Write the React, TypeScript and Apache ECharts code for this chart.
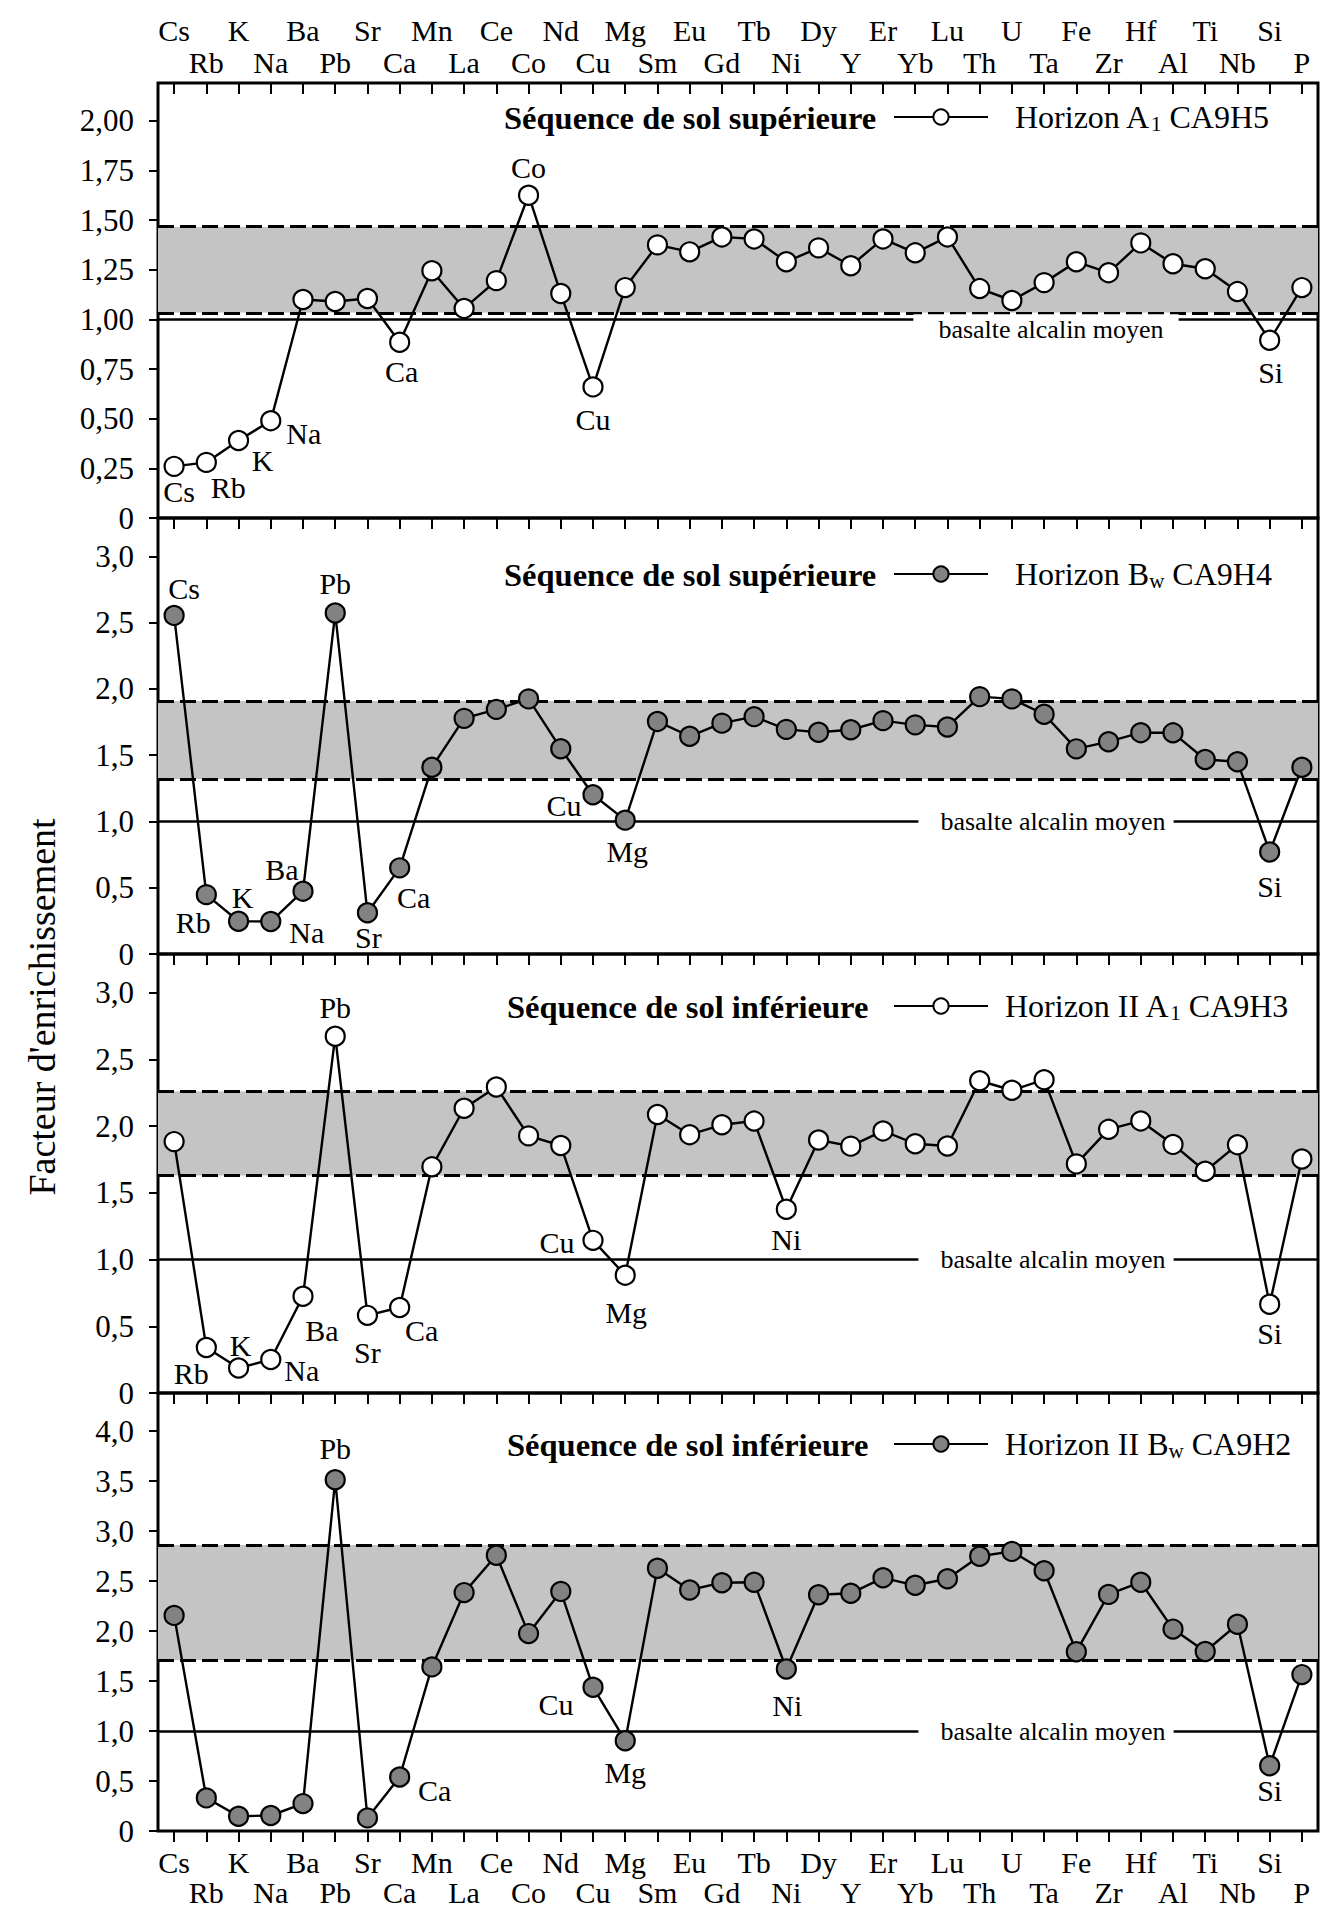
import React, { useEffect, useRef } from 'react';
import * as echarts from 'echarts';

const FONT = '"Liberation Serif", "Times New Roman", Times, serif';

// ---- Data ----
const elements = ['Cs', 'Rb', 'K', 'Na', 'Ba', 'Pb', 'Sr', 'Ca', 'Mn', 'La', 'Ce', 'Co', 'Nd', 'Cu', 'Mg', 'Sm', 'Eu', 'Gd', 'Tb', 'Ni', 'Dy', 'Y', 'Er', 'Yb', 'Lu', 'Th', 'U', 'Ta', 'Fe', 'Zr', 'Hf', 'Al', 'Ti', 'Nb', 'Si', 'P'];

const horizonA1CA9H5 = [0.26, 0.28, 0.39, 0.49, 1.10, 1.09, 1.105, 0.885, 1.245, 1.055, 1.195, 1.625, 1.13, 0.66, 1.16, 1.375, 1.34, 1.415, 1.405, 1.29, 1.36, 1.27, 1.405, 1.335, 1.415, 1.155, 1.095, 1.185, 1.29, 1.235, 1.385, 1.28, 1.255, 1.14, 0.895, 1.16];
const horizonBwCA9H4 = [2.555, 0.448, 0.247, 0.245, 0.474, 2.573, 0.311, 0.65, 1.409, 1.778, 1.846, 1.925, 1.549, 1.202, 1.01, 1.755, 1.643, 1.742, 1.791, 1.695, 1.673, 1.692, 1.761, 1.729, 1.713, 1.942, 1.925, 1.809, 1.548, 1.602, 1.67, 1.669, 1.468, 1.451, 0.77, 1.409];
const horizonIIA1CA9H3 = [1.884, 0.341, 0.187, 0.251, 0.725, 2.674, 0.582, 0.641, 1.695, 2.134, 2.293, 1.927, 1.855, 1.144, 0.883, 2.087, 1.936, 2.01, 2.038, 1.377, 1.896, 1.85, 1.964, 1.868, 1.851, 2.34, 2.269, 2.348, 1.717, 1.976, 2.039, 1.863, 1.662, 1.861, 0.665, 1.754];
const horizonIIBwCA9H2 = [2.156, 0.331, 0.147, 0.155, 0.274, 3.512, 0.131, 0.54, 1.641, 2.384, 2.758, 1.974, 2.396, 1.438, 0.903, 2.628, 2.41, 2.483, 2.487, 1.62, 2.362, 2.377, 2.532, 2.457, 2.523, 2.748, 2.796, 2.602, 1.793, 2.366, 2.488, 2.019, 1.795, 2.067, 0.652, 1.564];

const seriesNames = ['Horizon A1 CA9H5', 'Horizon Bw CA9H4', 'Horizon II A1 CA9H3', 'Horizon II Bw CA9H2'];
const sequenceTitles = ['Séquence de sol supérieure', 'Séquence de sol supérieure', 'Séquence de sol inférieure', 'Séquence de sol inférieure'];
const bandLow = [1.035, 1.32, 1.63, 1.71];
const bandHigh = [1.465, 1.91, 2.26, 2.86];
const meanLevel = 1.0;
const meanLabel = 'basalte alcalin moyen';
const yTitle = "Facteur d'enrichissement";

const yTicksA = [0, 0.25, 0.5, 0.75, 1, 1.25, 1.5, 1.75, 2];
const yTicksB = [0, 0.5, 1, 1.5, 2, 2.5, 3];
const yTicksC = [0, 0.5, 1, 1.5, 2, 2.5, 3, 3.5, 4];
const yMaxes = [2.19, 3.29, 3.29, 4.38];

// ---- Layout / style (not data) ----
const GRID_LEFT = 158;
const GRID_WIDTH = 1160;
const gridTops = [83, 518, 954, 1393];
const gridHeights = [435, 436, 439, 438];
const titleCenters = [118, 575, 1007, 1445];
const titleLefts = [504, 504, 507, 507];
const legendTextGaps = [22, 22, 12, 12];

const labelsA: Record<string, number[]> = { Cs: [5, 25], Rb: [22, 25], K: [24, 20], Na: [33, 13], Ca: [2, 29], Co: [0, -28], Cu: [0, 33], Si: [1, 32] };
const labelsB: Record<string, number[]> = { Cs: [10, -27], Rb: [-13, 28], K: [4, -24], Na: [36, 11], Ba: [-21, -22], Pb: [0, -30], Sr: [1, 25], Ca: [14, 30], Cu: [-29, 11], Mg: [2, 31], Si: [0, 35] };
const labelsC: Record<string, number[]> = { Rb: [-15, 26], K: [2, -23], Na: [31, 11], Ba: [19, 34], Pb: [0, -29], Sr: [0, 37], Ca: [22, 23], Cu: [-36, 2], Mg: [1, 37], Ni: [0, 30], Si: [0, 29] };
const labelsD: Record<string, number[]> = { Pb: [0, -31], Ca: [35, 13], Cu: [-37, 17], Mg: [0, 32], Ni: [1, 36], Si: [0, 25] };

export default function App() {
  const ref = useRef<HTMLDivElement>(null);

  useEffect(() => {
    const chart = echarts.init(ref.current!, null, { renderer: 'svg' });

    const panels = [
      { values: horizonA1CA9H5, ticks: yTicksA, step: 0.25, dec: 2, fill: '#ffffff', labels: labelsA, rich: '{h|Horizon A}{s|1}{t| CA9H5}' },
      { values: horizonBwCA9H4, ticks: yTicksB, step: 0.5, dec: 1, fill: '#828282', labels: labelsB, rich: '{h|Horizon B}{s|w}{t| CA9H4}' },
      { values: horizonIIA1CA9H3, ticks: yTicksB, step: 0.5, dec: 1, fill: '#ffffff', labels: labelsC, rich: '{h|Horizon II A}{s|1}{t| CA9H3}' },
      { values: horizonIIBwCA9H2, ticks: yTicksC, step: 0.5, dec: 1, fill: '#828282', labels: labelsD, rich: '{h|Horizon II B}{s|w}{t| CA9H2}' },
    ];

    const tickLine = { color: '#000', width: 2 };
    const labelText = { fontFamily: FONT, fontSize: 30, color: '#000' };

    const grid = panels.map((_, i) => ({
      left: GRID_LEFT, width: GRID_WIDTH, top: gridTops[i], height: gridHeights[i],
      show: true, borderColor: '#000', borderWidth: 3, backgroundColor: 'transparent',
    }));

    const xAxis: any[] = [];
    panels.forEach((_, i) => {
      xAxis.push({
        type: 'category', gridIndex: i, position: 'bottom', data: elements, boundaryGap: true,
        axisLine: { show: false }, splitLine: { show: false },
        axisTick: { show: i === 3, inside: false, length: 11, alignWithLabel: true, interval: 0, lineStyle: tickLine },
        axisLabel: i === 3 ? {
          show: true, interval: 0, margin: 16, ...labelText,
          formatter: (v: string, idx: number) => (idx % 2 === 0 ? `{e|${v}}` : `{o|${v}}`),
          rich: { e: { ...labelText }, o: { ...labelText, padding: [30, 0, 0, 0] } },
        } : { show: false },
      });
      xAxis.push({
        type: 'category', gridIndex: i, position: 'top', data: elements, boundaryGap: true,
        axisLine: { show: false }, splitLine: { show: false },
        axisTick: { show: true, inside: true, length: 11, alignWithLabel: true, interval: 0, lineStyle: tickLine },
        axisLabel: i === 0 ? {
          show: true, interval: 0, margin: 6, ...labelText,
          formatter: (v: string, idx: number) => (idx % 2 === 0 ? `{e|${v}}` : `{o|${v}}`),
          rich: { e: { ...labelText, padding: [0, 0, 32, 0] }, o: { ...labelText } },
        } : { show: false },
      });
    });

    const yAxis = panels.map((p, i) => ({
      type: 'value', gridIndex: i, min: 0, max: yMaxes[i], interval: p.step,
      axisLine: { show: false }, splitLine: { show: false },
      axisTick: { show: true, inside: false, length: 9, lineStyle: tickLine, customValues: p.ticks },
      axisLabel: {
        show: true, margin: 24, ...labelText, fontSize: 31, customValues: p.ticks,
        formatter: (v: number) => {
          const r = v / p.step;
          if (Math.abs(r - Math.round(r)) > 1e-6) return '';
          return v === 0 ? '0' : v.toFixed(p.dec).replace('.', ',');
        },
      },
    }));

    const series = panels.map((p, i) => ({
      type: 'line', name: seriesNames[i], xAxisIndex: 2 * i, yAxisIndex: i, z: 5,
      data: p.values.map((v, j) => {
        const off = p.labels[elements[j]];
        return off ? { value: v, label: { show: true, position: 'inside', offset: off } } : { value: v };
      }),
      symbol: 'circle', symbolSize: 19, showAllSymbol: true,
      lineStyle: { color: '#000', width: 2.4 },
      itemStyle: { color: p.fill, borderColor: '#000', borderWidth: 2.2 },
      label: {
        show: false, position: 'inside', ...labelText, textBorderWidth: 0,
        formatter: (q: any) => elements[q.dataIndex],
      },
      emphasis: { disabled: true },
      markArea: {
        silent: true,
        itemStyle: { color: '#c4c4c4' },
        data: [[{ yAxis: bandLow[i] }, { yAxis: bandHigh[i] }]],
      },
      markLine: {
        silent: true, symbol: ['none', 'none'], label: { show: false },
        data: [
          { yAxis: bandLow[i], lineStyle: { color: '#000', width: 3, type: [16, 6] } },
          { yAxis: bandHigh[i], lineStyle: { color: '#000', width: 3, type: [16, 6] } },
          { yAxis: meanLevel, lineStyle: { color: '#000', width: 2.5, type: 'solid' } },
        ],
      },
    }));

    const title = panels.map((_, i) => ({
      text: sequenceTitles[i], left: titleLefts[i], top: titleCenters[i] - 17, padding: 0,
      textStyle: { fontFamily: FONT, fontSize: 32.5, fontWeight: 'bold', color: '#000' },
    }));

    const legend = panels.map((p, i) => ({
      data: [seriesNames[i]], left: 893, top: titleCenters[i] - 17, padding: 0,
      itemWidth: 94, itemHeight: 19, selectedMode: false,
      formatter: () => p.rich,
      textStyle: {
        fontFamily: FONT, fontSize: 32, color: '#000',
        rich: {
          h: { fontFamily: FONT, fontSize: 32, color: '#000', padding: [0, 0, 0, legendTextGaps[i]] },
          s: { fontFamily: FONT, fontSize: 21, color: '#000', padding: [14, 0, 0, 0] },
          t: { fontFamily: FONT, fontSize: 32, color: '#000' },
        },
      },
    }));

    chart.setOption({
      animation: false,
      backgroundColor: '#fff',
      title, legend, grid, xAxis, yAxis, series,
    });

    const gfx: any[] = [
      {
        type: 'text', x: 42, y: 1007, rotation: Math.PI / 2, z: 100,
        style: { text: yTitle, fontFamily: FONT, fontSize: 38, fill: '#000', align: 'center', verticalAlign: 'middle' },
      },
    ];
    panels.forEach((_, i) => {
      const y = chart.convertToPixel({ yAxisIndex: i } as any, meanLevel) as unknown as number;
      gfx.push({
        type: 'text', z: 100,
        x: 1046, y: i === 0 ? y + 10 : y,
        style: {
          text: meanLabel, fontFamily: FONT, fontSize: 26, fill: '#000',
          align: 'center', verticalAlign: 'middle', backgroundColor: '#fff',
          padding: i === 0 ? [2, 15, 2, 25] : [2, 8, 2, 22],
        },
      });
    });
    chart.setOption({ graphic: gfx });

    return () => chart.dispose();
  }, []);

  return <div ref={ref} style={{ position: 'absolute', left: 0, top: 0, width: 1321, height: 1908, background: '#fff' }} />;
}
